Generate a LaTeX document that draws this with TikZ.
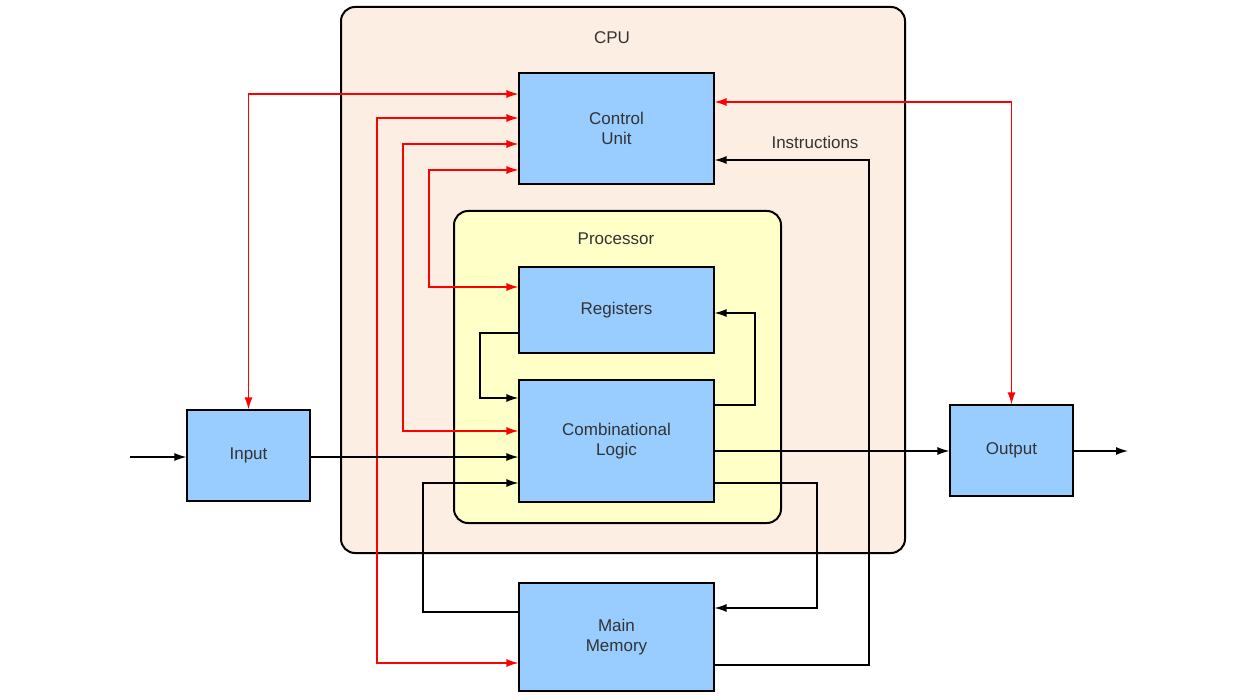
\documentclass[tikz,border=0pt]{standalone}
\usepackage{fontspec}
\setmainfont{Liberation Sans}
\usetikzlibrary{arrows.meta}
\definecolor{cpuf}{HTML}{FDEEE4}
\definecolor{procf}{HTML}{FFFFC8}
\definecolor{boxf}{HTML}{99CCFF}
\definecolor{txt}{HTML}{333333}
\begin{document}
\begin{tikzpicture}[x=1pt,y=-1pt,
  blk/.style={draw=black,line width=1.2pt,fill=boxf,text=txt,align=center,font=\fontsize{17}{20}\selectfont},
  lbl/.style={text=txt,font=\fontsize{17}{20}\selectfont},
  red/.style={draw=red,line width=1.3pt,{Latex[length=12pt,width=8pt]}-{Latex[length=12pt,width=8pt]}},
  blk2/.style={draw=black,line width=1.3pt,-{Latex[length=12pt,width=8pt]}}]
\useasboundingbox (0,0) rectangle (1260,700);
\draw[line width=2pt,rounded corners=14pt,fill=cpuf] (341,7) rectangle (905,553);
\node[lbl] (cpu) at (612,38) {CPU};
\draw[line width=2pt,rounded corners=14pt,fill=procf] (454,211) rectangle (781,523);
\node[lbl] (proc) at (616,239) {Processor};
\node[blk,minimum width=195pt,minimum height=111pt] (cu) at (616.5,128.5) {Control\\Unit};
\node[blk,minimum width=195pt,minimum height=86pt] (reg) at (616.5,310) {Registers};
\node[blk,minimum width=195pt,minimum height=122pt] (cl) at (616.5,441) {Combinational\\Logic};
\node[blk,minimum width=123pt,minimum height=91pt] (in) at (248.5,455.5) {Input};
\node[blk,minimum width=123pt,minimum height=91pt] (out) at (1011.5,450.5) {Output};
\node[blk,minimum width=195pt,minimum height=108pt] (mm) at (616.5,637) {Main\\Memory};
\coordinate (s) at (130,457);
\coordinate (e) at (1128,451);
% red
\draw[red] (in.north) |- (cu.west |- 0,94);
\draw[red] (cu.west |- 0,118) -| (377,400) |- (mm.west |- 0,663);
\draw[red] (cu.west |- 0,144) -| (403,300) |- (cl.west |- 0,431);
\draw[red] (cu.west |- 0,170) -| (429,230) |- (reg.west |- 0,287);
\draw[red] (cu.east |- 0,102) -| (out.north);
% black
\draw[blk2] (s) -- (in.west |- s);
\draw[blk2] (in.east |- 0,457) -- (cl.west |- 0,457);
\draw[blk2] (cl.east |- 0,451) -- (out.west |- 0,451);
\draw[blk2] (out.east |- e) -- (e);
\draw[blk2] (reg.west |- 0,333) -| (480,370) |- (cl.west |- 0,398);
\draw[blk2] (cl.east |- 0,405) -| (755,350) |- (reg.east |- 0,313);
\draw[blk2] (cl.east |- 0,483) -| (817,550) |- (mm.east |- 0,608);
\draw[blk2] (mm.west |- 0,612) -| (423,550) |- (cl.west |- 0,483);
\draw[blk2] (mm.east |- 0,665) -| (869,400) |- (cu.east |- 0,160);
\node[lbl] (ins) at (815,142) {Instructions};
\end{tikzpicture}
\end{document}
